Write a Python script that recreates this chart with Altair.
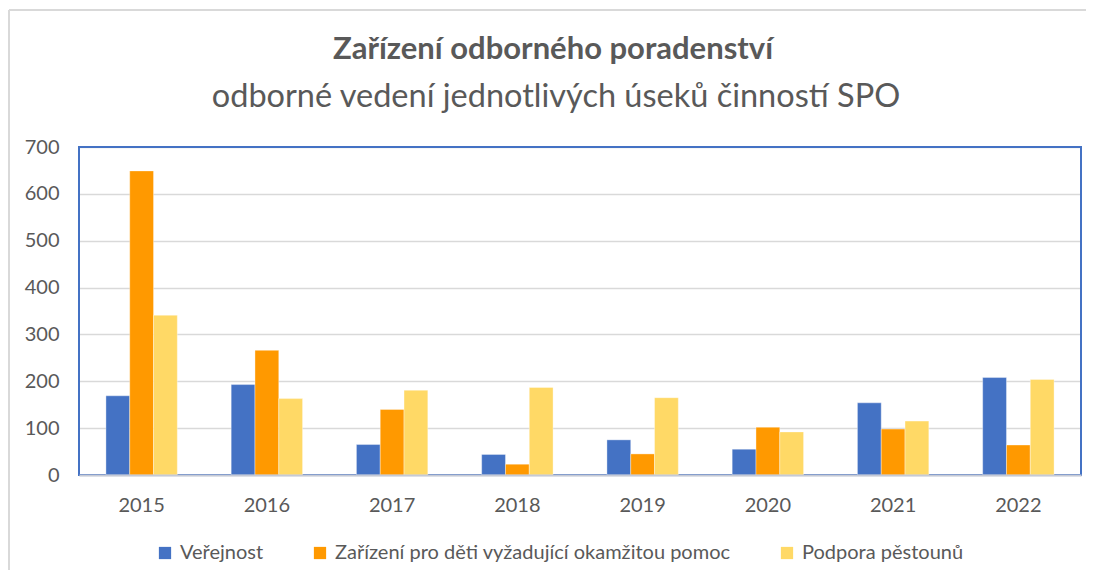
import altair as alt
import pandas as pd

years = ["2015", "2016", "2017", "2018", "2019", "2020", "2021", "2022"]
series = ["Veřejnost", "Zařízení pro děti vyžadující okamžitou pomoc", "Podpora pěstounů"]
verejnost = [169, 193, 65, 44, 75, 55, 154, 208]
zarizeni = [649, 266, 140, 23, 45, 102, 98, 64]
podpora = [341, 163, 181, 187, 165, 92, 115, 204]
colors = ["#4472C4", "#FF9900", "#FFD966"]
title_text = ["Zařízení odborného poradenství"]
subtitle_text = ["odborné vedení jednotlivých úseků činností SPO"]

rows = []
for i, y in enumerate(years):
    for s, vals in zip(series, [verejnost, zarizeni, podpora]):
        rows.append({"rok": y, "serie": s, "hodnota": vals[i]})
df = pd.DataFrame(rows)

W, H = 1002, 328
FONT = "Lato"
GREY = "#595959"

bars = alt.Chart(df).mark_bar(stroke="white", strokeWidth=0.6, strokeOpacity=0.6).encode(
    x=alt.X("rok:N", sort=years, title=None,
            scale=alt.Scale(paddingInner=0.43, paddingOuter=0.215),
            axis=alt.Axis(labelAngle=0, labelFontSize=20, labelColor=GREY, labelFont=FONT,
                          labelPadding=20, ticks=False, domainColor="#C5CAD6", domainWidth=2,
                          grid=False, zindex=1)),
    xOffset=alt.XOffset("serie:N", sort=series),
    y=alt.Y("hodnota:Q", title=None,
            scale=alt.Scale(domain=[0, 700]),
            axis=alt.Axis(values=[0, 100, 200, 300, 400, 500, 600, 700], labelFontSize=20,
                          labelColor=GREY, labelFont=FONT, labelPadding=20, ticks=False,
                          domain=False, gridColor="#D9D9D9", gridWidth=1.5)),
    color=alt.Color("serie:N", sort=series, title=None,
                    scale=alt.Scale(domain=series, range=colors),
                    legend=alt.Legend(orient="none", direction="horizontal", legendX=76, legendY=396,
                                      symbolType="square", symbolSize=150, symbolStrokeWidth=0,
                                      labelFontSize=20, labelColor=GREY, labelFont=FONT,
                                      labelOffset=5, columnPadding=46, labelLimit=600)),
)

border = alt.Chart(df).mark_rect(fill=None, stroke="#4472C4", strokeWidth=2).encode(
    x=alt.value(0), x2=alt.value(W), y=alt.value(0), y2=alt.value(H))

frame_top = alt.Chart(df).mark_rule(color="#D9D9D9", strokeWidth=2).encode(
    x=alt.value(-70), x2=alt.value(1010), y=alt.value(-137))
frame_left = alt.Chart(df).mark_rule(color="#D9D9D9", strokeWidth=2).encode(
    x=alt.value(-70), y=alt.value(-137), y2=alt.value(500))

title = alt.Chart(pd.DataFrame({"t": title_text})).mark_text(
    font=FONT, fontSize=31, fontWeight="bold", color=GREY, align="center", baseline="middle"
).encode(text="t:N", x=alt.value(474), y=alt.value(-97))

subtitle = alt.Chart(pd.DataFrame({"t": subtitle_text})).mark_text(
    font=FONT, fontSize=32.5, color=GREY, align="center", baseline="middle"
).encode(text="t:N", x=alt.value(477), y=alt.value(-50))

chart = alt.layer(frame_top, frame_left, border, bars, title, subtitle).properties(
    width=W, height=H,
    autosize=alt.AutoSizeParams(type="none"),
    padding={"left": 71, "top": 139, "right": 5, "bottom": 95},
    background="white",
).configure_view(stroke=None)

chart.save("out.html", embed_options={"renderer": "svg", "actions": False})
